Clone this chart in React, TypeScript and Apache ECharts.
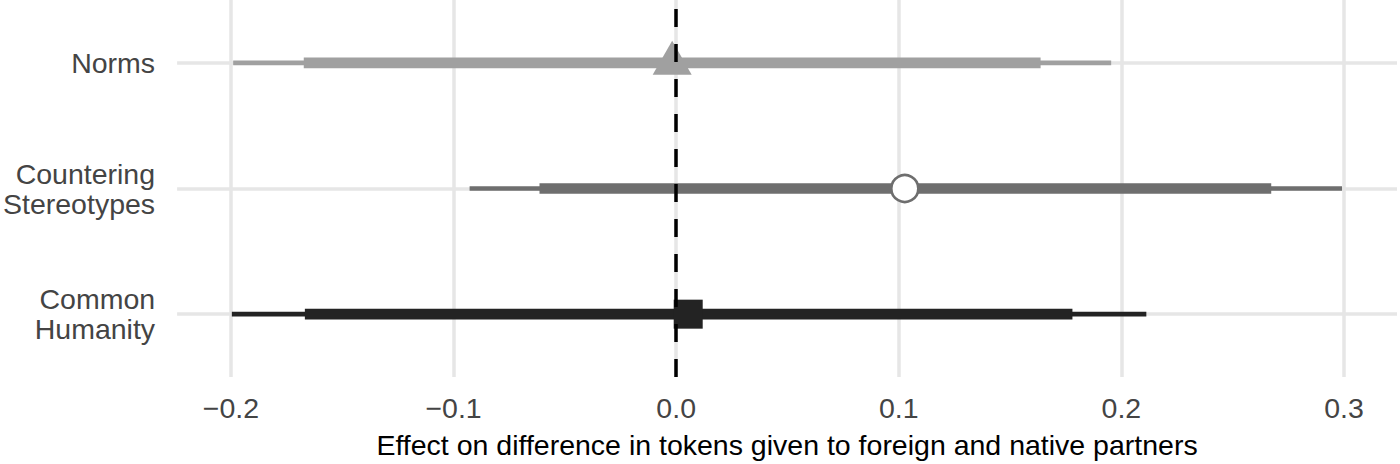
import React, { useEffect, useRef } from "react";
import * as echarts from "echarts";

// Rows from bottom to top
const categories = ["Common Humanity", "Countering Stereotypes", "Norms"];
const categoryLabels = ["Common\nHumanity", "Countering\nStereotypes", "Norms"];
const estimates = [0.0054, 0.1027, -0.0018];
const ci95Low = [-0.1996, -0.0928, -0.199];
const ci95High = [0.2112, 0.2991, 0.1954];
const ci90Low = [-0.1668, -0.0614, -0.1673];
const ci90High = [0.178, 0.2673, 0.1637];
const rowColors = ["#232323", "#6e6e6e", "#a0a0a0"];
const rowSymbols = ["rect", "circle", "triangle"];
const xTicks = [-0.2, -0.1, 0.0, 0.1, 0.2, 0.3];
const xMin = -0.2242;
const xMax = 0.3238;
const xTitle = "Effect on difference in tokens given to foreign and native partners";

const FONT = "'Liberation Sans', Arial, Helvetica, sans-serif";
const FS = 28.5;

export default function App() {
  const ref = useRef<HTMLDivElement>(null);
  useEffect(() => {
    document.body.style.margin = "0";
    if (!ref.current) return;
    const chart = echarts.init(ref.current, null, { renderer: "svg" });
    const series: any[] = [];
    // grid lines
    series.push({
      type: "line",
      data: [],
      silent: true,
      z: 1,
      markLine: {
        silent: true,
        z: 1,
        symbol: ["none", "none"],
        label: { show: false },
        animation: false,
        lineStyle: { color: "#e6e6e6", width: 3.5, type: "solid" },
        data: [
          ...xTicks.map((v) => ({ xAxis: v })),
          ...categories.map((c) => ({ yAxis: c })),
        ],
      },
    });
    categories.forEach((c, i) => {
      series.push({
        type: "line",
        data: [
          [ci95Low[i], c],
          [ci95High[i], c],
        ],
        symbol: "none",
        silent: true,
        z: 2,
        lineStyle: { color: rowColors[i], width: 4.7, cap: "butt", opacity: 1 },
      });
      series.push({
        type: "line",
        data: [
          [ci90Low[i], c],
          [ci90High[i], c],
        ],
        symbol: "none",
        silent: true,
        z: 3,
        lineStyle: { color: rowColors[i], width: 10.7, cap: "butt", opacity: 1 },
      });
      const sym = rowSymbols[i];
      series.push({
        type: "scatter",
        data: [[estimates[i], c]],
        symbol: sym,
        symbolSize: sym === "triangle" ? [39, 34] : sym === "circle" ? 27 : 29,
        symbolOffset: sym === "triangle" ? [0, -5] : [0, 0],
        silent: true,
        z: 4,
        itemStyle:
          sym === "circle"
            ? { color: "#ffffff", borderColor: rowColors[i], borderWidth: 2.6, opacity: 1 }
            : { color: rowColors[i], opacity: 1 },
      });
    });
    // dashed zero line on top
    series.push({
      type: "line",
      data: [],
      silent: true,
      z: 10,
      markLine: {
        silent: true,
        z: 10,
        symbol: ["none", "none"],
        label: { show: false },
        animation: false,
        lineStyle: { color: "#000000", width: 3.5, type: [18, 17], dashOffset: 0 },
        data: [{ xAxis: 0 }],
      },
    });

    chart.setOption({
      animation: false,
      grid: { left: 175, right: 3, top: 0, bottom: 86, containLabel: false },
      xAxis: {
        type: "value",
        min: xMin,
        max: xMax,
        axisLine: { show: false },
        axisTick: { show: false },
        splitLine: { show: false },
        axisLabel: {
          customValues: xTicks,
          margin: 16,
          fontSize: FS,
          color: "#444444",
          fontFamily: FONT,
          formatter: (v: number) => (v < 0 ? "\u2212" : "") + Math.abs(v).toFixed(1),
        },
        name: xTitle,
        nameLocation: "middle",
        nameGap: 53,
        nameTextStyle: { fontSize: FS, color: "#000000", fontFamily: FONT },
      },
      yAxis: {
        type: "category",
        data: categories,
        axisLine: { show: false },
        axisTick: { show: false },
        splitLine: { show: false },
        axisLabel: {
          margin: 22,
          fontSize: FS,
          lineHeight: 30,
          color: "#444444",
          fontFamily: FONT,
          align: "right",
          formatter: (_v: string, idx: number) => categoryLabels[idx],
        },
      },
      series,
    });
    return () => chart.dispose();
  }, []);
  return <div ref={ref} style={{ width: 1400, height: 464 }} />;
}
